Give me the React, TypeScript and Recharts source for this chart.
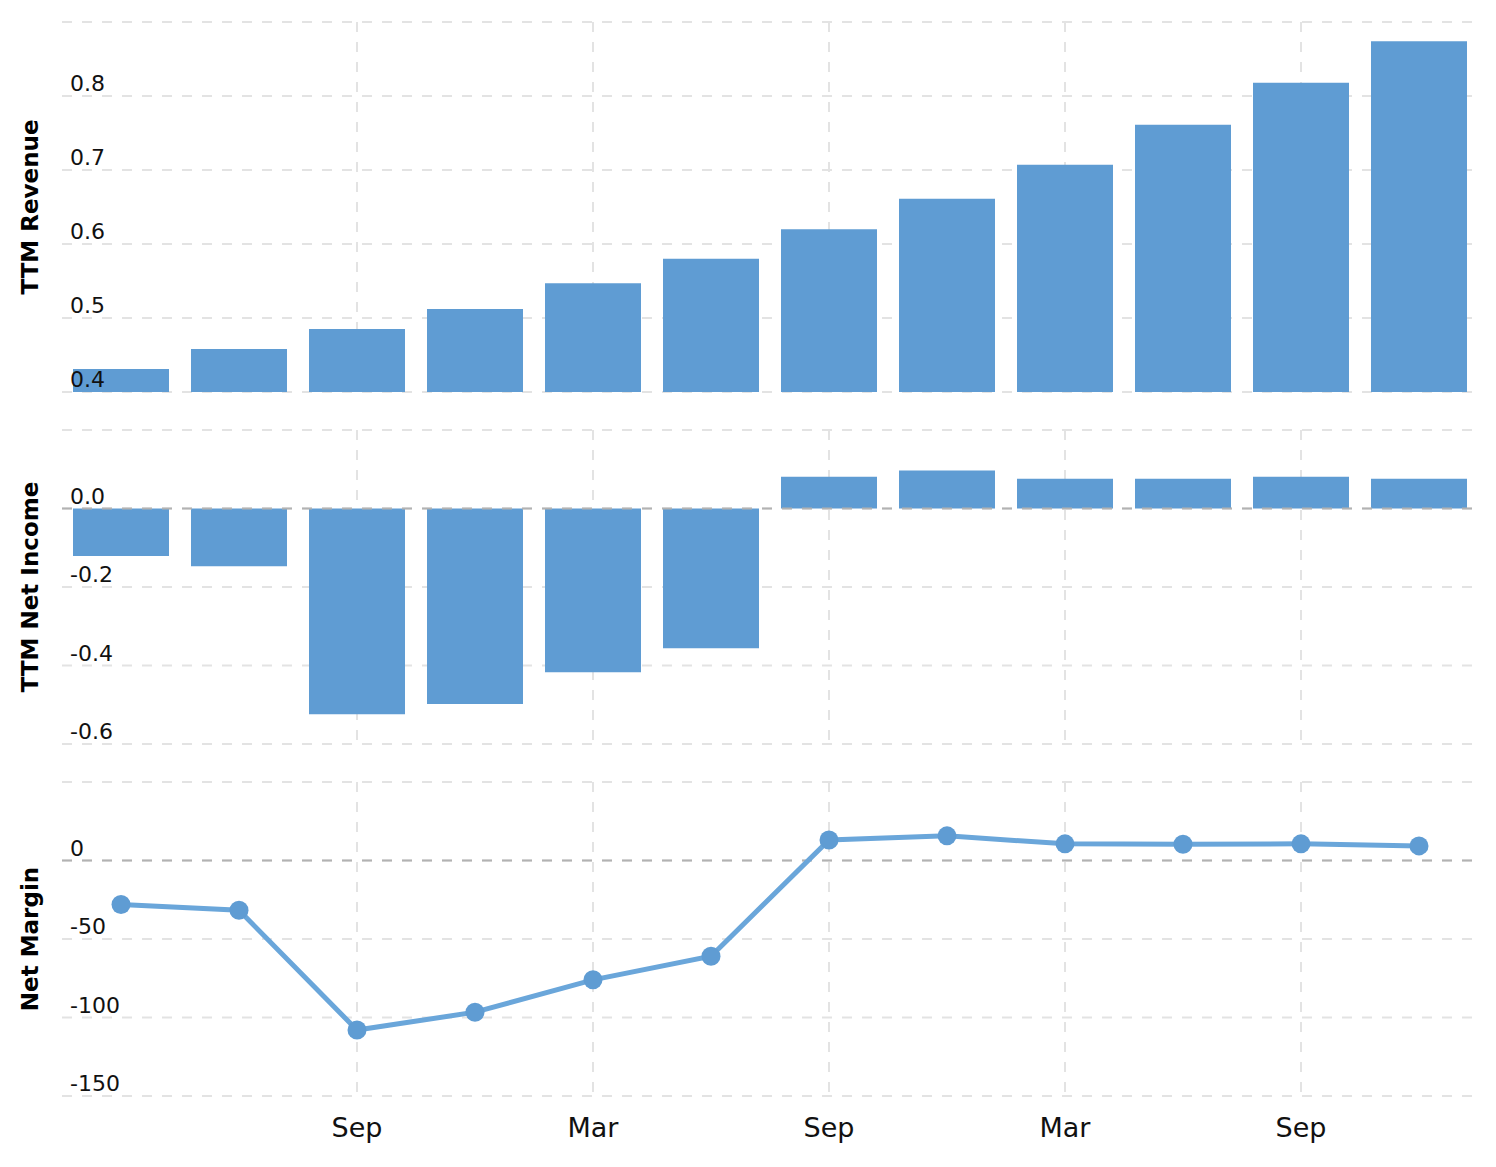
import React from 'react';
import { BarChart, Bar, LineChart, Line, XAxis, YAxis, CartesianGrid, ReferenceLine } from 'recharts';

// quarter ends, oldest first
const quarterEnds = ['Mar', 'Jun', 'Sep', 'Dec', 'Mar', 'Jun', 'Sep', 'Dec', 'Mar', 'Jun', 'Sep', 'Dec'];
const labelIdx = [2, 4, 6, 8, 10];

const revenue = [0.431, 0.458, 0.485, 0.512, 0.547, 0.58, 0.62, 0.661, 0.707, 0.761, 0.818, 0.874];
const netIncome = [-0.121, -0.147, -0.524, -0.498, -0.417, -0.356, 0.081, 0.097, 0.076, 0.076, 0.081, 0.076];
const netMargin = [-28.0, -31.7, -108.0, -96.6, -76.0, -61.0, 13.1, 15.7, 10.6, 10.4, 10.6, 9.3];

const revenueTicks = [0.4, 0.5, 0.6, 0.7, 0.8, 0.9];
const incomeTicks = [-0.6, -0.4, -0.2, 0, 0.2];
const marginTicks = [-150, -100, -50, 0, 50];

const data = quarterEnds.map((q, i) => ({
  idx: i,
  quarter: q,
  revenue: revenue[i],
  netIncome: netIncome[i],
  netMargin: netMargin[i],
}));

const FONT = 'DejaVu Sans, Verdana, sans-serif';
const BAR_COLOR = '#5f9cd3';
const LINE_COLOR = '#6aa6da';
const GRID_COLOR = '#e3e3e3';
const ZERO_COLOR = '#b2b2b2';

const yTick = (top: number, digits: number) => (props: any) => {
  const { y, payload } = props;
  if (payload.value === top) return <g />;
  return (
    <text x={70} y={y - 5} fontSize={22} fill="#111" fontFamily={FONT}>
      {Number(payload.value).toFixed(digits)}
    </text>
  );
};

const axisTitle = (text: string) => (props: any) => {
  const vb = props.viewBox || {};
  const cy = (vb.y || 0) + (vb.height || 0) / 2;
  return (
    <text
      x={38}
      y={cy}
      transform={`rotate(-90 38 ${cy})`}
      textAnchor="middle"
      fontSize={23}
      fontWeight="bold"
      fill="#000"
      fontFamily={FONT}
    >
      {text}
    </text>
  );
};

const xTick = (props: any) => {
  const { x, payload } = props;
  return (
    <text x={x} y={385} textAnchor="middle" fontSize={27} fill="#111" fontFamily={FONT}>
      {quarterEnds[payload.value]}
    </text>
  );
};

// vertical grid only at the labelled quarters (centre of each category band)
const vLines = ({ offset }: any) => {
  const band = offset.width / quarterEnds.length;
  return labelIdx.map((i) => offset.left + (i + 0.5) * band);
};

const W = 1496;

export default function App() {
  return (
    <div style={{ position: 'absolute', left: 0, top: 0, width: W, height: 1167, background: '#fff' }}>
      {/* TTM Revenue */}
      <div style={{ position: 'absolute', left: 0, top: 0 }}>
        <BarChart width={W} height={400} data={data} margin={{ top: 22, right: 18, bottom: 8, left: 0 }}>
          <CartesianGrid stroke={GRID_COLOR} strokeWidth={2} strokeDasharray="10 10" verticalCoordinatesGenerator={vLines} />
          <XAxis dataKey="idx" type="category" height={0} tick={false} axisLine={false} tickLine={false} />
          <Bar dataKey="revenue" fill={BAR_COLOR} barSize={96} isAnimationActive={false} />
          <YAxis
            type="number"
            domain={[0.4, 0.9]}
            ticks={revenueTicks}
            interval={0}
            width={62}
            axisLine={false}
            tickLine={false}
            tick={yTick(0.9, 1)}
            label={{ content: axisTitle('TTM Revenue') }}
          />
        </BarChart>
      </div>

      {/* TTM Net Income */}
      <div style={{ position: 'absolute', left: 0, top: 400 }}>
        <BarChart width={W} height={352} data={data} margin={{ top: 30, right: 18, bottom: 8, left: 0 }}>
          <CartesianGrid stroke={GRID_COLOR} strokeWidth={2} strokeDasharray="10 10" verticalCoordinatesGenerator={vLines} />
          <XAxis dataKey="idx" type="category" height={0} tick={false} axisLine={false} tickLine={false} />
          <Bar dataKey="netIncome" fill={BAR_COLOR} barSize={96} isAnimationActive={false} />
          <ReferenceLine y={0} stroke={ZERO_COLOR} strokeWidth={2} strokeDasharray="10 10" zIndex={1000} />
          <YAxis
            type="number"
            domain={[-0.6, 0.2]}
            ticks={incomeTicks}
            interval={0}
            width={62}
            axisLine={false}
            tickLine={false}
            tick={yTick(0.2, 1)}
            label={{ content: axisTitle('TTM Net Income') }}
          />
        </BarChart>
      </div>

      {/* Net Margin */}
      <div style={{ position: 'absolute', left: 0, top: 752 }}>
        <LineChart width={W} height={415} data={data} margin={{ top: 30, right: 18, bottom: 0, left: 0 }}>
          <CartesianGrid stroke={GRID_COLOR} strokeWidth={2} strokeDasharray="10 10" verticalCoordinatesGenerator={vLines} />
          <XAxis
            dataKey="idx"
            type="category"
            ticks={labelIdx}
            height={71}
            padding={{ left: 59, right: 59 }}
            tick={xTick}
            axisLine={false}
            tickLine={false}
            interval={0}
          />
          <ReferenceLine y={0} stroke={ZERO_COLOR} strokeWidth={2} strokeDasharray="10 10" />
          <Line
            type="linear"
            dataKey="netMargin"
            stroke={LINE_COLOR}
            strokeWidth={5}
            dot={{ r: 9.5, fill: BAR_COLOR, stroke: 'none' }}
            activeDot={false}
            isAnimationActive={false}
          />
          <YAxis
            type="number"
            domain={[-150, 50]}
            ticks={marginTicks}
            interval={0}
            width={62}
            axisLine={false}
            tickLine={false}
            tick={yTick(50, 0)}
            label={{ content: axisTitle('Net Margin') }}
          />
        </LineChart>
      </div>
    </div>
  );
}
